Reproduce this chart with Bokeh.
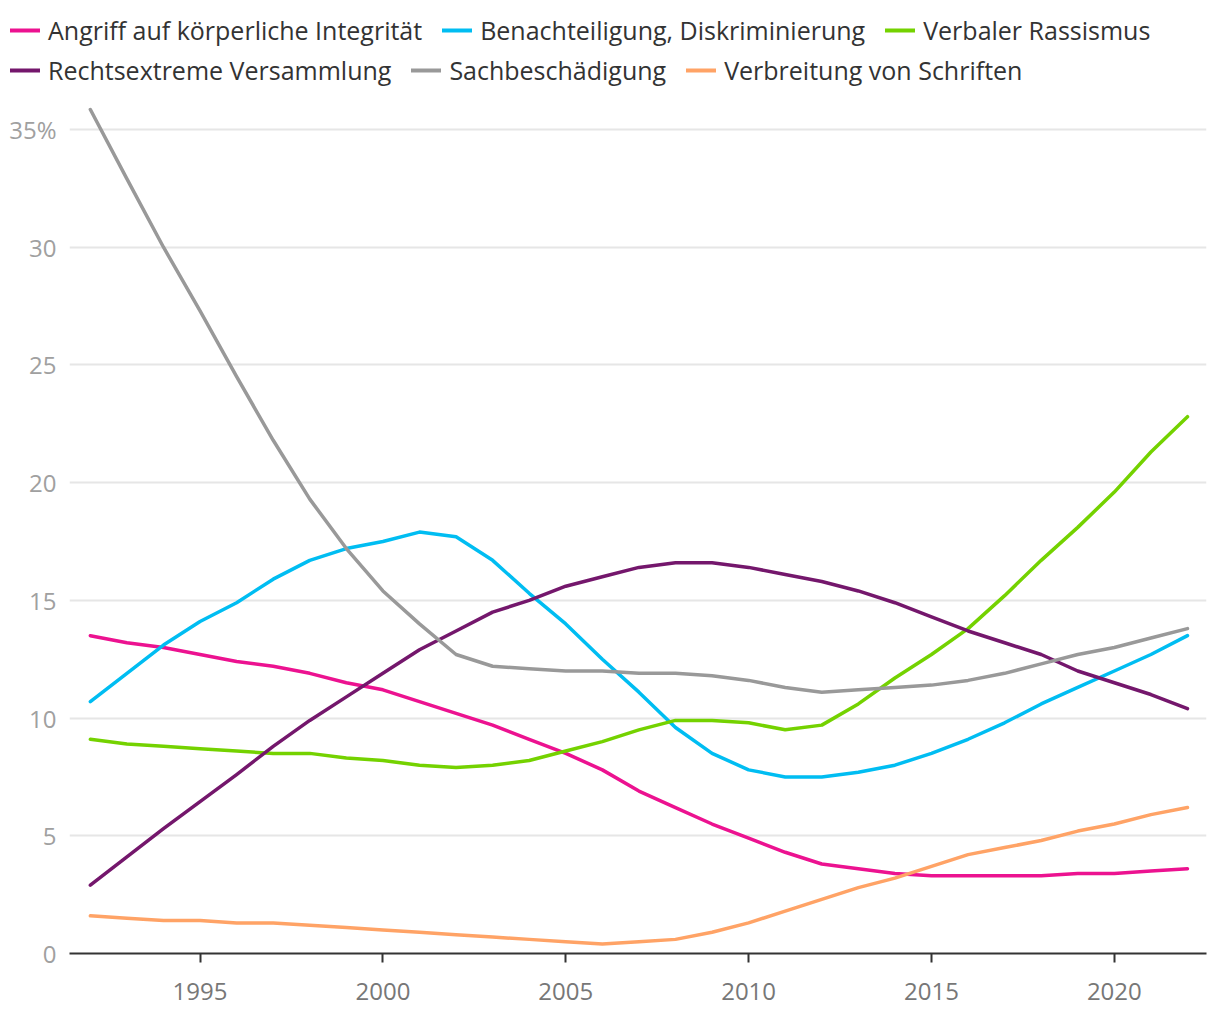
from bokeh.plotting import figure
from bokeh.models import Range1d, Legend, LegendItem, FixedTicker, CustomJSTickFormatter
from bokeh.embed import file_html
from bokeh.resources import INLINE

years = list(range(1992, 2023))

angriff = [13.5, 13.2, 13.0, 12.7, 12.4, 12.2, 11.9, 11.5, 11.2, 10.7, 10.2, 9.7, 9.1, 8.5, 7.8,
           6.9, 6.2, 5.5, 4.9, 4.3, 3.8, 3.6, 3.4, 3.3, 3.3, 3.3, 3.3, 3.4, 3.4, 3.5, 3.6]
benachteiligung = [10.7, 11.9, 13.1, 14.1, 14.9, 15.9, 16.7, 17.2, 17.5, 17.9, 17.7, 16.7, 15.3, 14.0, 12.5,
                   11.1, 9.6, 8.5, 7.8, 7.5, 7.5, 7.7, 8.0, 8.5, 9.1, 9.8, 10.6, 11.3, 12.0, 12.7, 13.5]
verbal = [9.1, 8.9, 8.8, 8.7, 8.6, 8.5, 8.5, 8.3, 8.2, 8.0, 7.9, 8.0, 8.2, 8.6, 9.0,
          9.5, 9.9, 9.9, 9.8, 9.5, 9.7, 10.6, 11.7, 12.7, 13.8, 15.2, 16.7, 18.1, 19.6, 21.3, 22.8]
versammlung = [2.9, 4.1, 5.3, 6.45, 7.6, 8.8, 9.9, 10.9, 11.9, 12.9, 13.7, 14.5, 15.0, 15.6, 16.0,
               16.4, 16.6, 16.6, 16.4, 16.1, 15.8, 15.4, 14.9, 14.3, 13.7, 13.2, 12.7, 12.0, 11.5, 11.0, 10.4]
sachbesch = [35.85, 32.9, 30.0, 27.3, 24.5, 21.8, 19.3, 17.2, 15.4, 14.0, 12.7, 12.2, 12.1, 12.0, 12.0,
             11.9, 11.9, 11.8, 11.6, 11.3, 11.1, 11.2, 11.3, 11.4, 11.6, 11.9, 12.3, 12.7, 13.0, 13.4, 13.8]
schriften = [1.6, 1.5, 1.4, 1.4, 1.3, 1.3, 1.2, 1.1, 1.0, 0.9, 0.8, 0.7, 0.6, 0.5, 0.4,
             0.5, 0.6, 0.9, 1.3, 1.8, 2.3, 2.8, 3.2, 3.7, 4.2, 4.5, 4.8, 5.2, 5.5, 5.9, 6.2]

names = ["Angriff auf körperliche Integrität", "Benachteiligung, Diskriminierung", "Verbaler Rassismus",
         "Rechtsextreme Versammlung", "Sachbeschädigung", "Verbreitung von Schriften"]
series = [angriff, benachteiligung, verbal, versammlung, sachbesch, schriften]
colors = ["#ec1290", "#00bdf2", "#74d200", "#74176c", "#999999", "#ffa366"]

x_ticks = [1995, 2000, 2005, 2010, 2015, 2020]
y_ticks = [0, 5, 10, 15, 20, 25, 30, 35]

FONT = "Open Sans"
W = 1220
LEG_H = 95
MAIN_H = 1020 - LEG_H
BL, BR, BT, BB = 69, 14, 0, 67

# ---------------- legend figure (own root, frame fills it) ----------------
lf = figure(width=W, height=LEG_H, output_backend="svg", toolbar_location=None,
            x_range=Range1d(0, 1), y_range=Range1d(0, 1),
            x_axis_location=None, y_axis_location=None,
            min_border_left=0, min_border_right=0, min_border_top=0, min_border_bottom=0)
lf.outline_line_color = None
lf.xgrid.grid_line_color = None
lf.ygrid.grid_line_color = None
leg_rends = [lf.line([0.5, 0.6], [-5, -5], line_color=c, line_width=4, line_cap="round") for c in colors]

def make_legend(idx, top_px):
    items = [LegendItem(label=names[i], renderers=[leg_rends[i]]) for i in idx]
    return Legend(items=items, orientation="horizontal",
                  location=(10, LEG_H - top_px - 40),
                  label_text_font=FONT, label_text_font_size="25px", label_text_color="#333333",
                  glyph_width=30, glyph_height=20, label_standoff=8, spacing=20,
                  padding=0, margin=0, border_line_color=None, background_fill_alpha=0,
                  label_height=40, label_text_baseline="middle")

lf.add_layout(make_legend([0, 1, 2], 10))
lf.add_layout(make_legend([3, 4, 5], 50))

# ---------------- main figure ----------------
frame_h = MAIN_H - BT - BB
px_per_unit = (953 - 129) / 35.0
p = figure(width=W, height=MAIN_H, output_backend="svg", toolbar_location=None,
           x_range=Range1d(1991.43, 2022.52), y_range=Range1d(0, frame_h / px_per_unit),
           min_border_left=BL, min_border_right=BR, min_border_bottom=BB, min_border_top=BT)
p.outline_line_color = None

for s, c in zip(series, colors):
    p.line(years, s, line_color=c, line_width=3.5, line_join="round", line_cap="round")

p.xaxis.ticker = FixedTicker(ticks=x_ticks)
p.xaxis.axis_line_color = "#333333"
p.xaxis.axis_line_width = 2
p.xaxis.major_tick_line_color = "#333333"
p.xaxis.major_tick_line_width = 2
p.xaxis.major_tick_in = 0
p.xaxis.major_tick_out = 9
p.xaxis.minor_tick_line_color = None
p.xaxis.major_label_text_font = FONT
p.xaxis.major_label_text_font_size = "24px"
p.xaxis.major_label_text_color = "#777777"
p.xaxis.major_label_standoff = 20

p.yaxis.ticker = FixedTicker(ticks=y_ticks)
p.yaxis.formatter = CustomJSTickFormatter(code="return tick == 35 ? tick + '%' : String(tick);")
p.yaxis.axis_line_color = None
p.yaxis.major_tick_line_color = None
p.yaxis.minor_tick_line_color = None
p.yaxis.major_label_text_font = FONT
p.yaxis.major_label_text_font_size = "24px"
p.yaxis.major_label_text_color = "#a0a0a0"
p.yaxis.major_label_standoff = 7

p.xgrid.grid_line_color = None
p.ygrid.grid_line_color = "#e6e6e6"
p.ygrid.grid_line_width = 2

html = file_html([lf, p], INLINE)
open("out.html", "w").write(html)
